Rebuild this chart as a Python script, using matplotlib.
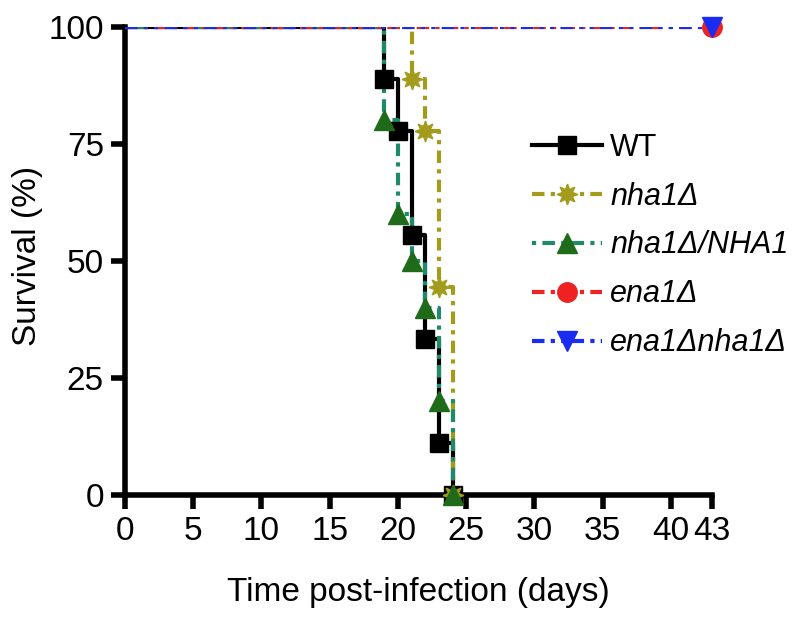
import matplotlib
matplotlib.use("Agg")
import matplotlib.pyplot as plt

plt.rcParams['font.family'] = ['Liberation Sans', 'DejaVu Sans']

# survival steps (days, % surviving)
wt_days = [0, 19, 20, 21, 22, 23, 24]
wt_surv = [100, 88.9, 77.8, 55.6, 33.3, 11.1, 0]

nha1_days = [0, 21, 22, 23, 24]
nha1_surv = [100, 88.9, 77.8, 44.4, 0]

comp_days = [0, 19, 20, 21, 22, 23, 24]
comp_surv = [100, 80, 60, 50, 40, 20, 0]

ena1_days = [0, 43]
ena1_surv = [100, 100]

double_days = [0, 43]
double_surv = [100, 100]

labels = ['WT', 'nha1Δ', 'nha1Δ/NHA1', 'ena1Δ', 'ena1Δnha1Δ']

fig = plt.figure(figsize=(8, 6.21), dpi=100)
ax = fig.add_axes([0.156, 0.203, 0.734, 0.754])

series = [
    (wt_days, wt_surv, 'black', 'black', '-', 's', 13),
    (nha1_days, nha1_surv, '#a39b1c', '#a39b1c', (0, (3, 1.5, 1, 1.5)), (8, 1, 0), 15),
    (comp_days, comp_surv, '#1e8a6a', '#1f6b1a', (0, (1, 1.5, 3, 1.5)), '^', 14),
    (ena1_days, ena1_surv, '#ee2222', '#ee2222', (0, (3, 1.5, 1, 1.5)), 'o', 14),
    (double_days, double_surv, '#1a2cf0', '#1a2cf0', (0, (3, 1.5, 1, 1.5, 1, 1.5)), 'v', 14),
]

handles = []
for (d, s, lc, mc, ls, mk, ms), lab in zip(series, labels):
    ax.step(d, s, where='post', color=lc, linestyle=ls, linewidth=3, zorder=3)
    mark_d = d[1:] if len(d) > 2 else d[-1:]
    mark_s = s[1:] if len(s) > 2 else s[-1:]
    ax.plot(mark_d, mark_s, linestyle='none', marker=mk, markersize=ms,
            color=mc, markeredgecolor=mc, zorder=4, clip_on=False)
    h, = ax.plot([], [], color=lc, linestyle=ls, linewidth=3, marker=mk,
                 markersize=ms, markerfacecolor=mc, markeredgecolor=mc)
    handles.append(h)

ax.set_xlim(0, 43)
ax.set_ylim(0, 100)
ax.set_xticks([0, 5, 10, 15, 20, 25, 30, 35, 40, 43])
ax.set_yticks([0, 25, 50, 75, 100])
for sp in ['top', 'right']:
    ax.spines[sp].set_visible(False)
for sp in ['left', 'bottom']:
    ax.spines[sp].set_linewidth(4)
ax.tick_params(width=4, length=10, labelsize=24, pad=5)
ax.set_xlabel('Time post-infection (days)', fontsize=24, labelpad=22)
ax.set_ylabel('Survival (%)', fontsize=24)
ax.yaxis.set_label_coords(-0.14, 0.51)

leg = ax.legend(handles, labels, loc='upper left', bbox_to_anchor=(0.673, 0.80),
                frameon=False, fontsize=22, handlelength=2.3, labelspacing=0.62,
                handletextpad=0.25, borderaxespad=0)
for t in leg.get_texts()[1:]:
    t.set_fontstyle('italic')

fig.savefig('out.png', dpi=100)
